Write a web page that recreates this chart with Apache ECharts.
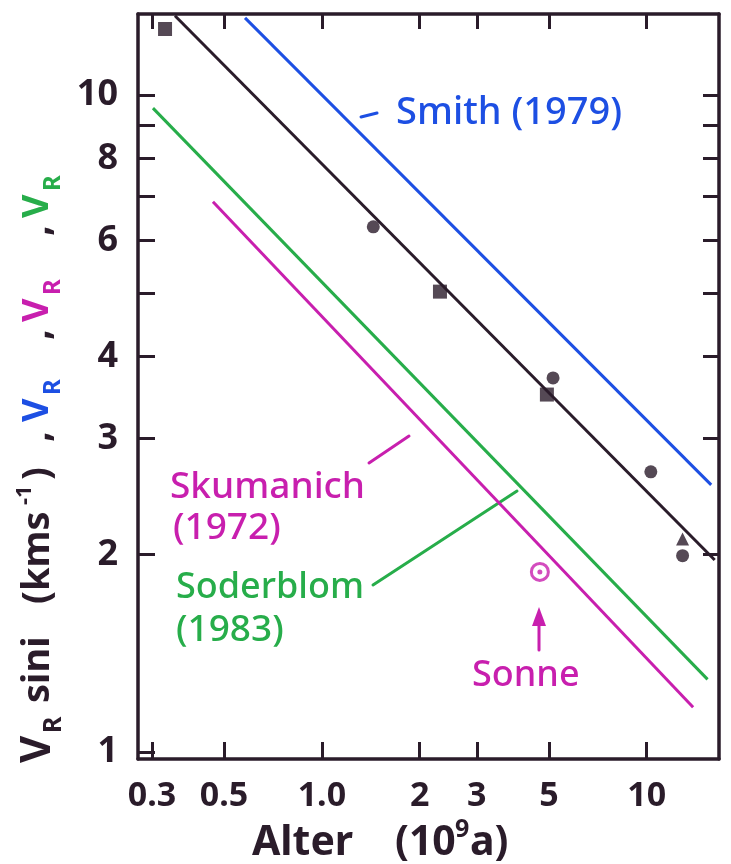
<!DOCTYPE html>
<html><head><meta charset="utf-8">
<script src="https://cdn.jsdelivr.net/npm/echarts@6/dist/echarts.min.js"></script>
<style>html,body{margin:0;padding:0;background:#fff}#c{width:731px;height:864px}</style>
</head><body><div id="c"></div>
<script>
// ---- axis ticks / labels ----
const xTicks = [0.3, 0.5, 1, 2, 3, 5, 10];
const yTicksLeft = [1, 2, 3, 4, 5, 6, 7, 8, 9, 10];
const yTicksRight = [2, 3, 4, 5, 6, 7, 8, 9, 10];
const yLabels = [1, 2, 3, 4, 6, 8, 10];

// ---- fitted relations (age in 10^9 a, velocity in km/s) ----
const fitAge = [0.353, 16.2];
const fitVel = [13.2, 1.96];
const smithAge = [0.58, 15.8];
const smithVel = [13.1, 2.55];
const soderblomAge = [0.302, 15.4];
const soderblomVel = [9.55, 1.29];
const skumanichAge = [0.462, 13.9];
const skumanichVel = [6.88, 1.17];

// ---- observed points ----
const squareAge = [0.329, 2.31, 4.93];
const squareVel = [12.6, 5.02, 3.50];
const circleAge = [1.44, 5.15, 10.3, 12.9];
const circleVel = [6.30, 3.71, 2.67, 1.99];
const triangleAge = [12.9];
const triangleVel = [2.11];
const sunAge = [4.69];
const sunVel = [1.88];

const INK = '#2a1c2a';
const BLUE = '#1d4fe3';
const GREEN = '#27ad4a';
const MAGENTA = '#c81fae';
const FONT = '"Noto Sans", "DejaVu Sans", sans-serif';

const pairs = (xs, ys) => xs.map((x, i) => [x, ys[i]]);

function lineSeries(xs, ys, color) {
  return {
    type: 'line', data: pairs(xs, ys), showSymbol: false, symbol: 'none',
    lineStyle: { color: color, width: 3 }, silent: true, z: 2
  };
}

const axisCommon = {
  type: 'log', logBase: 10,
  axisLine: { show: true, lineStyle: { color: INK, width: 3.5 } },
  splitLine: { show: false },
  minorTick: { show: false }
};

const chart = echarts.init(document.getElementById('c'));

const yTitleParts = [
  { t: 'V', at: 763, c: INK, s: 42, dy: 0 },
  { t: 'R', at: 733, c: INK, s: 25, dy: 16 },
  { t: 'sini', at: 703, c: INK, s: 38, dy: 0 },
  { t: '(kms', at: 604, c: INK, s: 38, dy: 0 },
  { t: '-1', at: 505, c: INK, s: 22, dy: -13 },
  { t: ')', at: 480, c: INK, s: 38, dy: 0 },
  { t: ',', at: 442, c: INK, s: 38, dy: 0 },
  { t: 'V', at: 422, c: BLUE, s: 36, dy: 0 },
  { t: 'R', at: 395, c: BLUE, s: 24, dy: 15 },
  { t: ',', at: 340, c: INK, s: 38, dy: 0 },
  { t: 'V', at: 322, c: MAGENTA, s: 36, dy: 0 },
  { t: 'R', at: 295, c: MAGENTA, s: 24, dy: 15 },
  { t: ',', at: 236, c: INK, s: 38, dy: 0 },
  { t: 'V', at: 218, c: GREEN, s: 36, dy: 0 },
  { t: 'R', at: 191, c: GREEN, s: 24, dy: 15 }
];

function txt(text, x, y, color, size, weight) {
  return {
    type: 'text', x: x, y: y, silent: true,
    style: { text: text, fill: color, font: (weight || 'normal') + ' ' + size + 'px ' + FONT,
             align: 'left', verticalAlign: 'middle' }
  };
}
function seg(x1, y1, x2, y2, color, w) {
  return { type: 'line', silent: true, shape: { x1, y1, x2, y2 },
           style: { stroke: color, lineWidth: w || 3, lineCap: 'round' } };
}

const option = {
  backgroundColor: '#ffffff',
  animation: false,
  grid: { left: 138, right: 12, top: 14, bottom: 105, containLabel: false },
  xAxis: [
    Object.assign({}, axisCommon, {
      position: 'bottom', min: 0.2716, max: 16.7,
      axisTick: { show: true, inside: true, length: 17, customValues: xTicks,
                  lineStyle: { color: INK, width: 3 } },
      axisLabel: { show: true, customValues: xTicks, margin: 20, color: INK,
                   fontFamily: FONT, fontWeight: 'bold', fontSize: 34,
                   formatter: v => (v === 1 ? '1.0' : String(v)) }
    }),
    Object.assign({}, axisCommon, {
      position: 'top', min: 0.2716, max: 16.7,
      axisTick: { show: true, inside: true, length: 15, customValues: xTicks,
                  lineStyle: { color: INK, width: 3 } },
      axisLabel: { show: false }
    })
  ],
  yAxis: [
    Object.assign({}, axisCommon, {
      position: 'left', min: 0.976, max: 13.28,
      axisTick: { show: true, inside: true, length: 17, customValues: yTicksLeft,
                  lineStyle: { color: INK, width: 3 } },
      axisLabel: { show: true, customValues: yLabels, margin: 20, color: INK,
                   fontFamily: FONT, fontWeight: 'bold', fontSize: 36 }
    }),
    Object.assign({}, axisCommon, {
      position: 'right', min: 0.976, max: 13.28,
      axisTick: { show: true, inside: true, length: 16, customValues: yTicksRight,
                  lineStyle: { color: INK, width: 3 } },
      axisLabel: { show: false }
    })
  ],
  series: [
    lineSeries(smithAge, smithVel, BLUE),
    lineSeries(soderblomAge, soderblomVel, GREEN),
    lineSeries(skumanichAge, skumanichVel, MAGENTA),
    lineSeries(fitAge, fitVel, INK),
    { type: 'scatter', data: pairs(squareAge, squareVel), symbol: 'rect', symbolSize: 14,
      itemStyle: { color: INK }, z: 3, silent: true },
    { type: 'scatter', data: pairs(circleAge, circleVel), symbol: 'circle', symbolSize: 13,
      itemStyle: { color: INK }, z: 3, silent: true },
    { type: 'scatter', data: pairs(triangleAge, triangleVel), symbol: 'triangle', symbolSize: 13,
      itemStyle: { color: INK }, z: 3, silent: true },
    { type: 'scatter', data: pairs(sunAge, sunVel), symbol: 'circle', symbolSize: 17,
      itemStyle: { color: '#ffffff', borderColor: MAGENTA, borderWidth: 3 }, z: 3, silent: true },
    { type: 'scatter', data: pairs(sunAge, sunVel), symbol: 'circle', symbolSize: 5,
      itemStyle: { color: MAGENTA }, z: 4, silent: true }
  ],
  graphic: [
    { type: 'group', x: 38, y: 762, rotation: Math.PI / 2, silent: true,
      children: yTitleParts.map(p => ({
        type: 'text', x: 762 - p.at, y: p.dy,
        style: { text: p.t, fill: p.c, font: 'bold ' + p.s + 'px ' + FONT,
                 align: 'left', verticalAlign: 'middle' }
      })) },
    txt('Alter', 252, 843, INK, 41, 'bold'),
    txt('(10', 395, 843, INK, 41, 'bold'),
    txt('9', 455, 830, INK, 25, 'bold'),
    txt('a)', 470, 843, INK, 41, 'bold'),
    seg(361, 117, 377, 113, BLUE, 3),
    txt('Smith (1979)', 396, 113, BLUE, 38, '500'),
    seg(369, 463, 409, 436, MAGENTA, 3),
    txt('Skumanich', 170, 487, MAGENTA, 37, '500'),
    txt('(1972)', 173, 528, MAGENTA, 37, '500'),
    seg(373, 585, 517, 491, GREEN, 3),
    txt('Soderblom', 176, 588, GREEN, 36, '500'),
    txt('(1983)', 176, 630, GREEN, 37, '500'),
    seg(539, 650, 539, 620, MAGENTA, 3),
    { type: 'polygon', silent: true, shape: { points: [[539, 607], [532, 626], [546, 626]] },
      style: { fill: MAGENTA } },
    txt('Sonne', 472, 676, MAGENTA, 36, '500')
  ]
};
chart.setOption(option);
</script></body></html>
